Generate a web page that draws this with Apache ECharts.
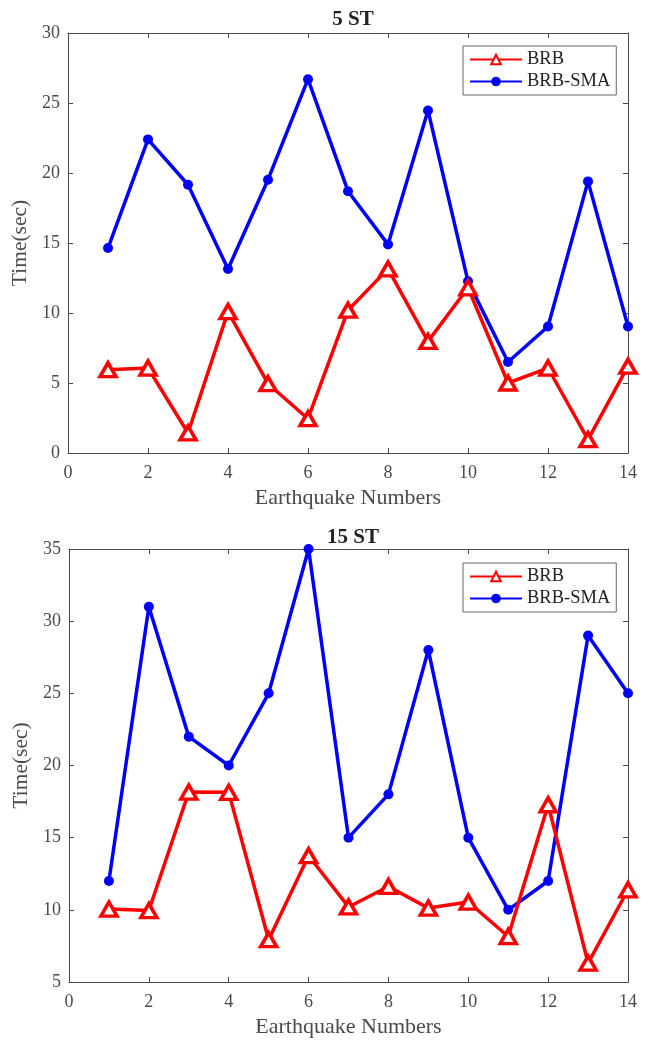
<!DOCTYPE html>
<html>
<head>
<meta charset="utf-8">
<script src="https://cdn.jsdelivr.net/npm/echarts@6/dist/echarts.min.js"></script>
<style>html,body{margin:0;padding:0;background:#fff;}#c{width:651px;height:1044px;}</style>
</head>
<body>
<div id="c"></div>
<script>
const earthquakes = [1,2,3,4,5,6,7,8,9,10,11,12,13,14];
const top_BRB = [5.95, 6.07, 1.43, 10.1, 4.95, 2.45, 10.2, 13.15, 7.97, 11.8, 5.0, 6.07, 0.95, 6.2];
const top_SMA = [14.64, 22.4, 19.16, 13.14, 19.52, 26.7, 18.7, 14.9, 24.47, 12.26, 6.5, 9.04, 19.4, 9.04];
const bot_BRB = [10.05, 9.95, 18.16, 18.14, 7.93, 13.75, 10.2, 11.62, 10.12, 10.54, 8.15, 17.28, 6.31, 11.39];
const bot_SMA = [12, 31, 22, 20, 25, 35, 15, 18, 28, 15, 10, 12, 29, 25];
const titles = ['5 ST', '15 ST'];
const seriesNames = ['BRB', 'BRB-SMA'];
const xLabel = 'Earthquake Numbers';
const yLabel = 'Time(sec)';

const font = 'Liberation Serif';
const axisColor = '#4a4a4a';
const pairs = (ys) => earthquakes.map((x, i) => [x, ys[i]]);

function xAxes(gi) {
  const base = {
    gridIndex: gi, type: 'value', min: 0, max: 14, interval: 2,
    axisLine: {show: true, onZero: false, lineStyle: {color: axisColor, width: 1}},
    axisTick: {show: true, inside: true, length: 5, lineStyle: {color: axisColor}},
    splitLine: {show: false}
  };
  return [
    Object.assign({}, base, {position: 'bottom',
      axisLabel: {color: axisColor, fontFamily: font, fontSize: 18, margin: 11},
      name: xLabel, nameLocation: 'middle', nameGap: 34,
      nameTextStyle: {color: axisColor, fontFamily: font, fontSize: 22}}),
    Object.assign({}, base, {position: 'top', axisLabel: {show: false}})
  ];
}
function yAxes(gi, min, max) {
  const base = {
    gridIndex: gi, type: 'value', min: min, max: max, interval: 5,
    axisLine: {show: true, onZero: false, lineStyle: {color: axisColor, width: 1}},
    axisTick: {show: true, inside: true, length: 5, lineStyle: {color: axisColor}},
    splitLine: {show: false}
  };
  return [
    Object.assign({}, base, {position: 'left',
      axisLabel: {color: axisColor, fontFamily: font, fontSize: 18, margin: 8},
      name: yLabel, nameLocation: 'middle', nameGap: 29, nameRotate: 90,
      nameTextStyle: {color: axisColor, fontFamily: font, fontSize: 21.5}}),
    Object.assign({}, base, {position: 'right', axisLabel: {show: false}})
  ];
}
function mkSeries(gi, brb, sma) {
  return [
    {name: seriesNames[0], type: 'line', xAxisIndex: gi*2, yAxisIndex: gi*2, data: pairs(brb),
     symbol: 'triangle', symbolSize: [16, 14], showAllSymbol: true,
     lineStyle: {color: '#ff0000', width: 3.5},
     itemStyle: {color: '#ffffff', borderColor: '#ff0000', borderWidth: 3.5}, z: 3},
    {name: seriesNames[1], type: 'line', xAxisIndex: gi*2, yAxisIndex: gi*2, data: pairs(sma),
     symbol: 'circle', symbolSize: 10, showAllSymbol: true,
     lineStyle: {color: '#0000ff', width: 3.5},
     itemStyle: {color: '#0000ff', borderColor: '#0000ff', borderWidth: 0}, z: 2}
  ];
}
function mkLegend(top) {
  return {
    data: seriesNames, orient: 'vertical', left: 463, top: top,
    itemWidth: 52, itemHeight: 12, itemGap: 3,
    padding: [4, 6, 4, 6],
    borderColor: '#666', borderWidth: 1, backgroundColor: '#fff',
    textStyle: {color: '#222', fontFamily: font, fontSize: 18.5},
    selectedMode: false
  };
}

const chart = echarts.init(document.getElementById('c'), null, {renderer: 'canvas'});
chart.setOption({
  animation: false,
  backgroundColor: '#fff',
  title: [
    {text: titles[0], left: 348, top: 4, textAlign: 'center',
     textStyle: {fontFamily: font, fontSize: 21, fontWeight: 'bold', color: '#222'}},
    {text: titles[1], left: 348, top: 522, textAlign: 'center',
     textStyle: {fontFamily: font, fontSize: 21, fontWeight: 'bold', color: '#222'}}
  ],
  legend: [mkLegend(46), mkLegend(563)],
  grid: [
    {left: 68, top: 33, width: 560, height: 420},
    {left: 69, top: 549, width: 559, height: 433}
  ],
  xAxis: xAxes(0).concat(xAxes(1)),
  yAxis: yAxes(0, 0, 30).concat(yAxes(1, 5, 35)),
  series: mkSeries(0, top_BRB, top_SMA).concat(mkSeries(1, bot_BRB, bot_SMA))
});
</script>
</body>
</html>
